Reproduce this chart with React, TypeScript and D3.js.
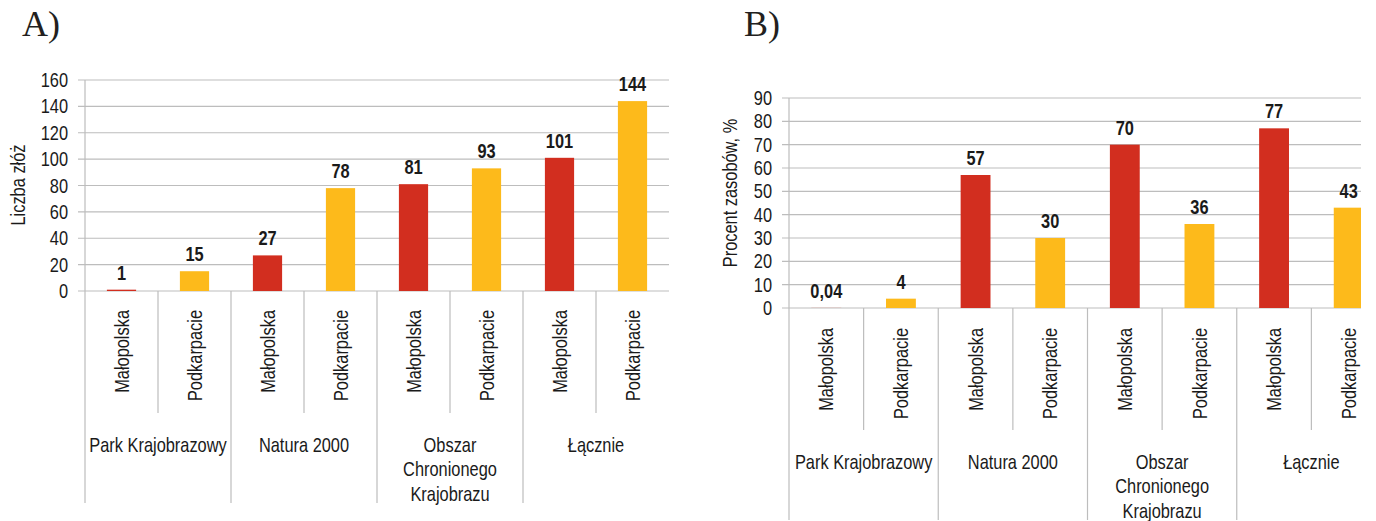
import React from "react";
import * as d3 from "d3";

const groups = ["Park Krajobrazowy", "Natura 2000", "Obszar Chronionego Krajobrazu", "Łącznie"];
const groupLines = [["Park Krajobrazowy"], ["Natura 2000"], ["Obszar", "Chronionego", "Krajobrazu"], ["Łącznie"]];
const regions = ["Małopolska", "Podkarpacie"];
const countMalopolska = [1, 27, 81, 101];
const countPodkarpacie = [15, 78, 93, 144];
const percentMalopolska = [0.04, 57, 70, 77];
const percentPodkarpacie = [4, 30, 36, 43];
const ticksA = [0, 20, 40, 60, 80, 100, 120, 140, 160];
const ticksB = [0, 10, 20, 30, 40, 50, 60, 70, 80, 90];

const RED = "#D22E1F";
const YELLOW = "#FDBA1B";
const GRID = "#BDBDBD";
const SANS = "'Liberation Sans', Arial, sans-serif";
const SERIF = "'Liberation Serif', 'Times New Roman', serif";
const NX = 0.82; // narrow factor (Arial Narrow look)
const FS = 20;
const INK = "#1a1a1a";

type Panel = {
  id: string;
  letter: string;
  letterX: number;
  yTitle: string;
  titleX: number;
  titleY: number;
  x0: number;
  x1: number;
  clipX: number;
  y0: number;
  yTop: number;
  yMax: number;
  ticks: number[];
  m: number[];
  p: number[];
  fmt: (v: number) => string;
  labelGap: number;
};

const panels: Panel[] = [
  {
    id: "A", letter: "A)", letterX: 22, yTitle: "Liczba złóż", titleX: 18, titleY: 185,
    x0: 85, x1: 669, clipX: 669, y0: 291, yTop: 80, yMax: 160, ticks: ticksA,
    m: countMalopolska, p: countPodkarpacie, fmt: (v) => String(v), labelGap: 19,
  },
  {
    id: "B", letter: "B)", letterX: 744, yTitle: "Procent zasobów, %", titleX: 730, titleY: 193,
    x0: 789, x1: 1386, clipX: 1361, y0: 308, yTop: 98, yMax: 90, ticks: ticksB,
    m: percentMalopolska, p: percentPodkarpacie, fmt: (v) => String(v).replace(".", ","), labelGap: 20,
  },
];

function PanelChart({ P }: { P: Panel }) {
  const keys: string[] = [];
  const vals: number[] = [];
  const cols: string[] = [];
  groups.forEach((g, gi) => {
    regions.forEach((r, ri) => {
      keys.push(g + "|" + r);
      vals.push(ri === 0 ? P.m[gi] : P.p[gi]);
      cols.push(ri === 0 ? RED : YELLOW);
    });
  });
  const x = d3.scaleBand<string>().domain(keys).range([P.x0, P.x1]).paddingInner(0.6).paddingOuter(0.3);
  const step = x.step();
  const y = d3.scaleLinear().domain([0, P.yMax]).range([P.y0, P.yTop]);
  const clipId = "clip" + P.id;
  return (
    <g>
      <defs>
        <clipPath id={clipId}>
          <rect x={P.x0 - 10} y={0} width={P.clipX - P.x0 + 10} height={521} />
        </clipPath>
      </defs>
      <text x={P.letterX} y={36} fontFamily={SERIF} fontSize={36} fill="#231F20">{P.letter}</text>
      <text
        transform={`translate(${P.titleX},${P.titleY}) rotate(-90) scale(${NX},1)`}
        textAnchor="middle" dominantBaseline="central"
        fontFamily={SANS} fontSize={FS} fill={INK}
      >{P.yTitle}</text>
      <g clipPath={`url(#${clipId})`}>
        {P.ticks.map((t) => (
          <line key={t} x1={P.x0 - 7} x2={P.clipX} y1={y(t)} y2={y(t)} stroke={GRID} strokeWidth={1.2} />
        ))}
        {keys.map((k, i) => (
          <rect key={k} x={x(k)!} width={x.bandwidth()} y={y(vals[i])} height={P.y0 - y(vals[i])} fill={cols[i]} />
        ))}
      </g>
      <line x1={P.x0} x2={P.x0} y1={P.yTop} y2={P.y0} stroke={GRID} strokeWidth={1.2} />
      {P.ticks.map((t) => (
        <text key={t} transform={`translate(${P.x0 - 17},${y(t)}) scale(${NX},1)`} textAnchor="end"
          dominantBaseline="central" fontFamily={SANS} fontSize={FS} fill={INK}>{t}</text>
      ))}
      {keys.map((k, i) => {
        const cx = x(k)! + x.bandwidth() / 2;
        return (
          <text key={k} transform={`translate(${cx},${y(vals[i]) - 10}) scale(${NX},1)`} textAnchor="middle"
            fontFamily={SANS} fontWeight="bold" fontSize={FS} fill={INK}>{P.fmt(vals[i])}</text>
        );
      })}
      {keys.map((k, i) => {
        const cx = x(k)! + x.bandwidth() / 2;
        return (
          <text key={k} transform={`translate(${cx},${P.y0 + P.labelGap}) rotate(-90) scale(${NX},1)`}
            textAnchor="end" dominantBaseline="central" fontFamily={SANS} fontSize={FS} fill={INK}>{regions[i % 2]}</text>
        );
      })}
      {keys.map((k, i) => {
        const bx = x(k)! - (step - x.bandwidth()) / 2;
        const long = i % 2 === 0;
        return (
          <line key={k} x1={bx} x2={bx} y1={P.y0} y2={P.y0 + (long ? 212 : 122)} stroke={GRID} strokeWidth={1.2} />
        );
      })}
      {groupLines.map((lines, gi) => {
        const gx = P.x0 + step * (gi * 2 + 1);
        return (
          <g key={gi} transform={`translate(${gx},${P.y0 + 161}) scale(${NX},1)`}>
            <text textAnchor="middle" fontFamily={SANS} fontSize={FS} fill={INK}>
              {lines.map((ln, li) => (
                <tspan key={li} x={0} y={li * 24.5}>{ln}</tspan>
              ))}
            </text>
          </g>
        );
      })}
    </g>
  );
}

export default function App() {
  return (
    <svg width={1376} height={521} style={{ position: "absolute", left: 0, top: 0, background: "#fff" }}>
      <rect width={1376} height={521} fill="#fff" />
      {panels.map((P) => (
        <PanelChart key={P.id} P={P} />
      ))}
    </svg>
  );
}
